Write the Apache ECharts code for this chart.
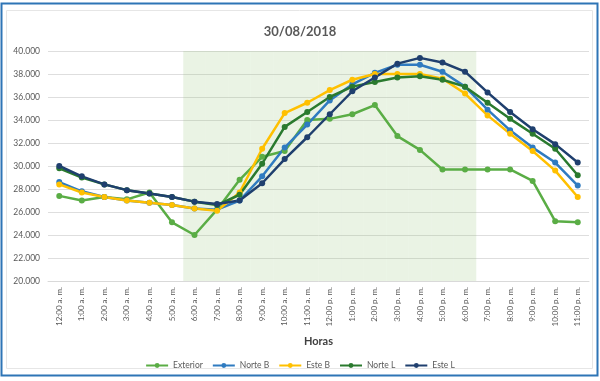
<!DOCTYPE html>
<html>
<head>
<meta charset="utf-8">
<script src="https://cdn.jsdelivr.net/npm/echarts@6/dist/echarts.min.js"></script>
<style>html,body{margin:0;padding:0;background:#fff}#c{width:600px;height:381px}</style>
</head>
<body>
<div id="c"></div>
<script>
var categories = ["12:00 a. m.","1:00 a. m.","2:00 a. m.","3:00 a. m.","4:00 a. m.","5:00 a. m.","6:00 a. m.","7:00 a. m.","8:00 a. m.","9:00 a. m.","10:00 a. m.","11:00 a. m.","12:00 p. m.","1:00 p. m.","2:00 p. m.","3:00 p. m.","4:00 p. m.","5:00 p. m.","6:00 p. m.","7:00 p. m.","8:00 p. m.","9:00 p. m.","10:00 p. m.","11:00 p. m."];
var exterior = [27400,27000,27300,27100,27700,25100,24000,26200,28800,30800,31300,34000,34100,34500,35300,32600,31400,29700,29700,29700,29700,28700,25200,25100];
var norteB = [28600,27800,27300,27000,26800,26600,26300,26200,27000,29100,31600,33600,35700,37100,38100,38800,38800,38200,36900,34900,33100,31600,30300,28300];
var esteB = [28400,27700,27300,27000,26800,26600,26300,26100,27700,31500,34600,35500,36600,37500,38000,38000,38000,37600,36300,34400,32800,31300,29600,27300];
var norteL = [29800,29000,28400,27900,27600,27300,26900,26600,27500,30200,33400,34700,36000,36900,37300,37700,37800,37500,36900,35500,34100,32800,31500,29200];
var esteL = [30000,29100,28400,27900,27600,27300,26900,26700,27000,28500,30600,32500,34500,36500,37700,38900,39400,39000,38200,36400,34700,33200,31900,30300];
var shadeStart = "6:00 a. m.", shadeEnd = "6:00 p. m.";
var yMin = 20000, yMax = 40000, yStep = 2000;

var s0 = categories.indexOf(shadeStart), s1 = categories.indexOf(shadeEnd);
var shade = categories.map(function(c,i){ return (i>=s0 && i<=s1) ? yMax : null; });

var font = 'Lato, "Liberation Sans", sans-serif';
function ser(name, data, color){
  return {name:name, type:'line', data:data, symbol:'circle', symbolSize:6,
    lineStyle:{color:color, width:2.5}, itemStyle:{color:color}, z:3};
}
var chart = echarts.init(document.getElementById('c'), null, {renderer:'canvas'});
chart.setOption({
  animation:false,
  textStyle:{fontFamily:font},
  title:{text:'30/08/2018', left:'center', top:20, textStyle:{fontFamily:font, fontSize:13, fontWeight:'bold', color:'#595959'}},
  grid:{left:48, right:11, top:51, bottom:100},
  legend:{data:['Exterior','Norte B','Este B','Norte L','Este L'], bottom:6, left:'center', itemWidth:22, itemHeight:6, itemGap:9,
    textStyle:{fontFamily:font, fontSize:8.5, color:'#595959'}},
  xAxis:{type:'category', data:categories, boundaryGap:true,
    name:'Horas', nameLocation:'middle', nameGap:55, nameTextStyle:{fontFamily:font, fontSize:11, fontWeight:'bold', color:'#404040'},
    axisLine:{lineStyle:{color:'#d9d9d9'}}, axisTick:{show:false},
    axisLabel:{rotate:90, interval:0, fontSize:8, color:'#595959', margin:6, fontFamily:font}},
  yAxis:{type:'value', min:yMin, max:yMax, interval:yStep,
    axisLine:{show:false}, axisTick:{show:false},
    splitLine:{lineStyle:{color:'#dedede', width:1}},
    axisLabel:{fontSize:8.5, color:'#595959', margin:8, fontFamily:font,
      formatter:function(v){ return (v/1000).toFixed(3); }}},
  graphic:[
    {type:'rect', shape:{x:1.5,y:3.5,width:596,height:372}, style:{fill:'none', stroke:'#2e75b6', lineWidth:2}, silent:true},
    {type:'rect', shape:{x:6.5,y:10.5,width:586,height:358}, style:{fill:'none', stroke:'#e6e6e6', lineWidth:1}, silent:true}
  ],
  series:[
    {name:'shade', type:'bar', data:shade, barCategoryGap:'0%', itemStyle:{color:'rgba(150,195,120,0.2)'}, z:1, silent:true},
    ser('Exterior', exterior, '#5aad45'),
    ser('Norte B', norteB, '#2f7bc0'),
    ser('Este B', esteB, '#ffc000'),
    ser('Norte L', norteL, '#2a7a2e'),
    ser('Este L', esteL, '#1f3f6e')
  ]
});
</script>
</body>
</html>
